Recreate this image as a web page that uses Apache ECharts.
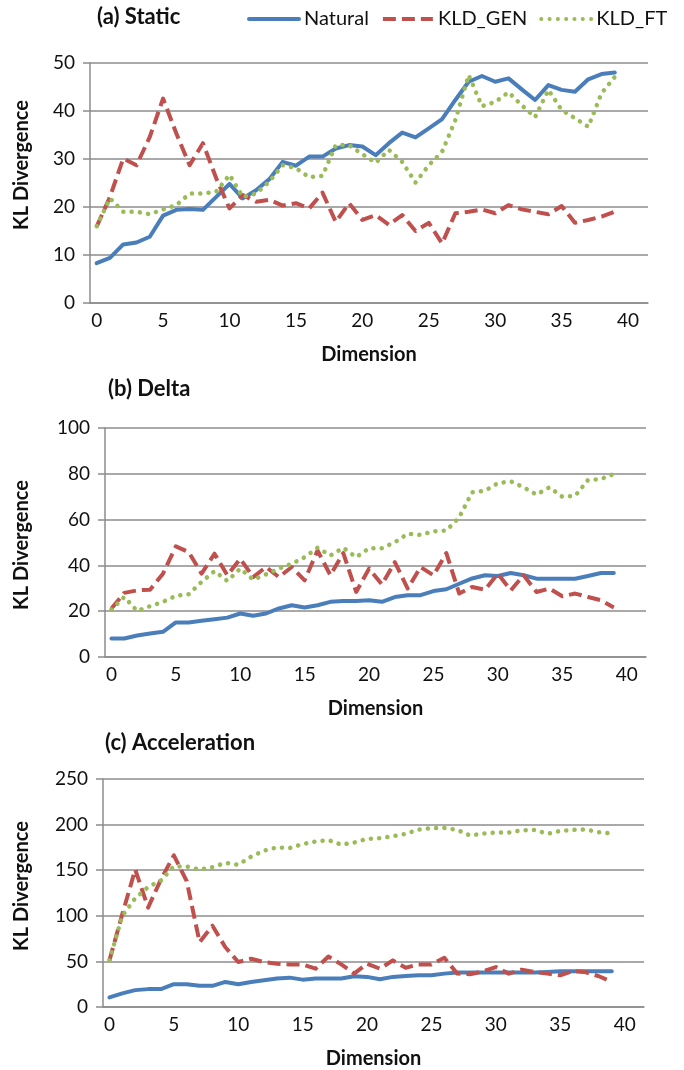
<!DOCTYPE html>
<html>
<head>
<meta charset="utf-8">
<script src="https://cdn.jsdelivr.net/npm/echarts@6/dist/echarts.min.js"></script>
<style>
html,body{margin:0;padding:0;background:#fff;}
#c{width:684px;height:1070px;}
</style>
</head>
<body>
<div id="c"></div>
<script>
// x categories (dimension index); labels shown every 5
const dims = ['0','1','2','3','4','5','6','7','8','9','10','11','12','13','14','15','16','17','18','19','20',
  '21','22','23','24','25','26','27','28','29','30','31','32','33','34','35','36','37','38','39','40','41'];
const seriesNames = ['Natural', 'KLD_GEN', 'KLD_FT'];
const panelTitles = ['(a) Static', '(b) Delta', '(c) Acceleration'];
const yTitle = 'KL Divergence';
const xTitle = 'Dimension';

// (a) Static
const staticNatural = [8.3,9.4,12.2,12.6,13.8,18.2,19.4,19.6,19.4,22.1,24.8,21.8,23.5,25.8,29.4,28.6,30.5,30.5,32.2,32.9,
  32.6,30.8,33.3,35.5,34.5,36.4,38.3,42.3,46.1,47.3,46.1,46.8,44.5,42.3,45.4,44.4,44.0,46.6,47.7,48.0];
const staticGen = [15.9,22.1,30.1,28.7,34.6,42.6,35.3,28.7,33.3,26.0,19.7,22.5,21.1,21.5,20.3,20.8,19.7,23.0,16.9,20.8,
  17.3,18.3,16.3,18.3,15.0,16.7,12.4,18.7,19.0,19.5,18.7,20.4,19.5,19.0,18.5,20.2,16.7,17.3,18.0,19.0];
const staticFt = [16.0,21.8,19.0,19.0,18.5,19.5,20.4,22.8,22.8,23.2,26.7,22.1,22.8,25.3,28.7,28.1,26.2,26.5,32.9,32.9,
  31.0,29.2,31.9,29.4,25.1,28.7,31.5,38.1,47.5,41.0,41.9,43.9,41.2,38.7,44.4,40.2,38.5,36.7,43.7,47.1];

// (b) Delta
const deltaNatural = [8.1,8.1,9.4,10.3,11.0,15.1,15.1,15.8,16.5,17.2,19.0,18.0,19.0,21.2,22.6,21.6,22.6,24.1,24.5,24.5,
  24.8,24.1,26.2,27.0,27.0,28.8,29.6,32.0,34.3,35.7,35.4,36.7,35.7,34.2,34.2,34.2,34.2,35.4,36.7,36.7];
const deltaGen = [21.2,28.0,29.1,29.4,36.4,48.3,45.8,36.4,45.1,35.7,42.9,34.9,39.3,34.9,39.3,33.5,46.5,35.7,45.4,28.4,
  38.6,31.7,41.4,29.9,39.3,35.7,45.4,27.7,30.6,29.4,36.4,29.1,35.7,28.4,29.9,26.5,27.7,26.2,24.8,21.6];
const deltaFt = [20.7,26.2,20.1,22.2,24.1,26.7,27.4,32.8,37.5,33.2,38.6,33.8,36.1,38.6,40.7,43.6,47.7,44.3,47.7,43.6,
  47.5,47.5,50.1,53.8,53.3,54.9,55.2,61.0,71.9,72.6,75.9,76.7,74.1,70.9,74.1,70.0,70.4,77.3,77.7,79.9];

// (c) Acceleration
const accNatural = [10.5,14.9,18.5,19.6,19.6,25.0,25.0,23.2,23.2,27.5,25.0,27.5,29.3,31.2,32.2,30.0,31.2,31.2,31.2,33.7,
  33.0,30.4,33.0,34.1,34.8,34.8,36.6,37.7,37.7,37.7,37.7,37.7,37.7,37.7,38.4,39.1,39.1,39.1,39.1,39.1];
const accGen = [51.1,101.8,150.7,109.0,139.9,166.3,138.0,71.0,89.1,65.5,49.3,52.9,49.3,47.5,46.7,46.7,42.0,55.4,46.7,36.6,
  47.5,42.0,51.1,43.1,46.7,46.7,54.0,36.6,35.9,39.1,43.8,36.6,41.0,38.4,36.6,34.8,39.5,38.0,33.7,27.5];
const accFt = [51.1,100.0,119.2,131.5,138.8,154.3,154.0,150.7,153.3,158.0,156.0,164.9,171.4,175.0,174.3,178.6,181.5,183.0,178.0,180.4,
  184.4,185.1,187.3,189.9,194.6,196.0,196.4,194.2,188.0,190.2,191.3,191.3,193.8,194.2,189.9,193.1,194.2,194.6,191.6,190.2];

const yMax = [50, 100, 250];
const yStep = [10, 20, 50];

const FONT = 'Lato, "Liberation Sans", sans-serif';
const GRID_COLOR = '#8c8c8c';
const styles = [
  { color: '#4a7ebb', lineStyle: { width: 4, type: 'solid', cap: 'round', join: 'round' } },
  { color: '#c0504d', lineStyle: { width: 4, type: [13, 6], cap: 'butt', join: 'round' } },
  { color: '#9bbb59', lineStyle: { width: 4.5, type: [0.1, 8.2], cap: 'round', join: 'round' } }
];
const panelData = [
  [staticNatural, staticGen, staticFt],
  [deltaNatural, deltaGen, deltaFt],
  [accNatural, accGen, accFt]
];

const grids = [
  { left: 90, right: 36, top: 63, height: 240 },
  { left: 105, right: 38, top: 428, height: 229 },
  { left: 103, right: 40, top: 779, height: 228 }
];

const xAxes = [], yAxes = [], series = [];
for (let p = 0; p < 3; p++) {
  xAxes.push({
    type: 'category', gridIndex: p, data: dims, boundaryGap: true,
    axisLine: { show: true, lineStyle: { color: GRID_COLOR, width: 1.5 } },
    axisTick: { show: false },
    axisLabel: {
      interval: (i) => i % 5 === 0 && i <= 40,
      color: '#111', fontFamily: FONT, fontSize: 19, margin: 8
    },
    name: xTitle, nameLocation: 'middle', nameGap: 42,
    nameTextStyle: { color: '#111', fontFamily: FONT, fontSize: 20, fontWeight: 'bold' }
  });
  yAxes.push({
    type: 'value', gridIndex: p, min: 0, max: yMax[p], interval: yStep[p],
    axisLine: { show: true, lineStyle: { color: GRID_COLOR, width: 1.5 } },
    axisTick: { show: true, length: 7, lineStyle: { color: GRID_COLOR, width: 1.5 } },
    splitLine: { show: true, lineStyle: { color: GRID_COLOR, width: 1.5 } },
    axisLabel: { color: '#111', fontFamily: FONT, fontSize: 19, margin: 15 }
  });
  for (let s = 0; s < 3; s++) {
    series.push({
      type: 'line', name: seriesNames[s], xAxisIndex: p, yAxisIndex: p,
      data: panelData[p][s], symbol: 'none', smooth: false,
      itemStyle: { color: styles[s].color },
      lineStyle: Object.assign({ color: styles[s].color }, styles[s].lineStyle),
      z: s === 0 ? 3 : (s === 1 ? 4 : 5),
      animation: false
    });
  }
}

const titlePos = [[97, 17], [108, 389], [105, 743]];
const yTitleCenter = [165, 545, 886];
const graphic = [];
panelTitles.forEach((t, i) => {
  graphic.push({
    type: 'text', x: titlePos[i][0], y: titlePos[i][1],
    style: { text: t, fill: '#111', font: 'bold 22px ' + FONT, textVerticalAlign: 'middle', textAlign: 'left' }
  });
  graphic.push({
    type: 'text', x: 22, y: yTitleCenter[i], rotation: Math.PI / 2,
    style: { text: yTitle, fill: '#111', font: 'bold 20px ' + FONT, textVerticalAlign: 'middle', textAlign: 'center' }
  });
});

const chart = echarts.init(document.getElementById('c'), null, { renderer: 'canvas' });
chart.setOption({
  animation: false,
  backgroundColor: '#fff',
  grid: grids,
  xAxis: xAxes,
  yAxis: yAxes,
  series: series,
  graphic: graphic,
  legend: {
    data: seriesNames, left: 247, top: 9, padding: 0, itemWidth: 50, itemHeight: 16, itemGap: 12,
    itemStyle: { opacity: 0 },
    lineStyle: { width: 4 },
    textStyle: { color: '#111', fontFamily: FONT, fontSize: 20 },
    selectedMode: false
  }
});
</script>
</body>
</html>
